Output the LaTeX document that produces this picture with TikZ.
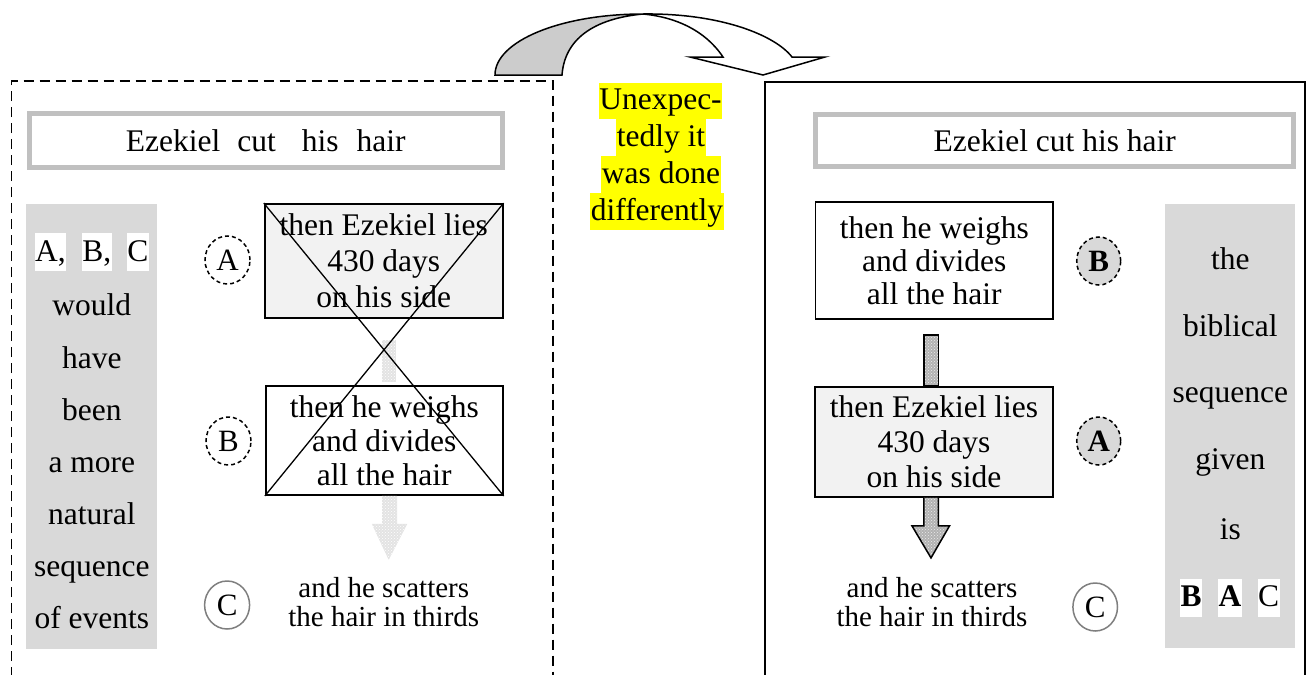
\documentclass[tikz,border=0pt]{standalone}
\usepackage{fontspec}
\setmainfont{Liberation Serif}
\usetikzlibrary{patterns,calc,shapes.geometric}
\definecolor{colgray}{HTML}{D9D9D9}
\definecolor{boxfill}{HTML}{F2F2F2}
\definecolor{titlegray}{HTML}{C0C0C0}
\definecolor{curvegray}{HTML}{CCCCCC}
\definecolor{hl}{HTML}{FFFF00}
\definecolor{ringgray}{HTML}{7F7F7F}
\begin{document}
\begin{tikzpicture}[x=1pt,y=-1pt,
  every node/.style={font=\fontsize{31.5}{35}\selectfont, inner sep=0pt},
  linebox/.style={text height=28pt, text depth=10pt, inner xsep=0.5pt},
  whitebox/.style={linebox, fill=white},
  hlbox/.style={linebox, text height=27pt, text depth=9.7pt, fill=hl},
  titlebox/.style={draw=titlegray, line width=5pt, fill=white},
  colbox/.style={fill=colgray},
  eventbox/.style={draw=black, line width=1.8pt, align=center},
  dashring/.style={ellipse, draw=black, line width=1.5pt, dash pattern=on 4pt off 3pt, minimum width=45pt, minimum height=48pt, font=\fontsize{31}{35}\selectfont},
  solidring/.style={ellipse, draw=ringgray, line width=1.5pt, minimum width=45pt, minimum height=48pt, font=\fontsize{31}{35}\selectfont},
  frameline/.style={line width=1.8pt},
  darkarrow/.style={preaction={fill=gray!60}, pattern=crosshatch dots, pattern color=gray!15, draw=black, line width=1.5pt},
  fadearrow/.style={preaction={fill=gray!22}, pattern=crosshatch dots, pattern color=white},
  scattertext/.style={align=center, font=\fontsize{29}{29.5}\selectfont}
]
\useasboundingbox (0,0) rectangle (1310,675);

% frames
\draw[frameline, dash pattern=on 10pt off 6pt] (11.5,677) -- (11.5,81) -- (553,81) -- (553,677);
\draw[frameline] (765,677) -- (765,82) -- (1305,82) -- (1305,677);

% curved arrow
\filldraw[fill=curvegray, draw=black, line width=1.5pt]
  (495,75) .. controls (495,41) and (561,14) .. (643,14)
  .. controls (600,18) and (565,35) .. (562,75) -- cycle;
\filldraw[fill=white, draw=black, line width=1.5pt]
  (643,14) .. controls (720,13) and (775,35) .. (792,57)
  -- (825,57) -- (763,75) -- (690,57) -- (723,57)
  .. controls (705,30) and (675,17) .. (643,14) -- cycle;

% middle highlighted text
\node[hlbox] (u1) at (660.5,101) {Unexpec-};
\node[hlbox] (u2) at (661,137.5) {tedly it};
\node[hlbox] (u3) at (661,174.5) {was done};
\node[hlbox] (u4) at (657,211.5) {differently};

% ===== left panel =====
\node[titlebox, minimum width=473pt, minimum height=54pt] (lT) at (265.7,140.5)
  {Ezekiel\hspace{17pt}cut\hspace{26pt}his\hspace{18pt}hair};

\node[colbox, minimum width=131pt, minimum height=445pt] (lCol) at (91.8,426.5) {};
\node[whitebox] (lcolA) at (50.5,252) {A,};
\node[whitebox] (lcolB) at (96.8,252) {B,};
\node[whitebox] (lcolC) at (137.9,252) {C};
\node[linebox] (lw1) at (91.8,306) {would};
\node[linebox] (lw2) at (91.8,359) {have};
\node[linebox] (lw3) at (91.8,411) {been};
\node[linebox] (lw4) at (91.8,463) {a more};
\node[linebox] (lw5) at (91.8,515) {natural};
\node[linebox] (lw6) at (91.8,567) {sequence};
\node[linebox] (lw7) at (91.8,619) {of events};

\node[eventbox, fill=boxfill, minimum width=238pt, minimum height=114pt,
      font=\fontsize{31.5}{36}\selectfont] (lA) at (383.7,261)
  {then Ezekiel lies\\430 days\\on his side};
\node[eventbox, fill=white, minimum width=237pt, minimum height=109pt,
      font=\fontsize{31.5}{34}\selectfont] (lB) at (384.3,440.5)
  {then he weighs\\and divides\\all the hair};
\node[scattertext] (lS) at (383.8,602) {and he scatters\\the hair in thirds};

\path[fadearrow] ($(lA.south)+(-1.7,21)$) rectangle ($(lB.north)+(11.7,-3)$);
\path[fadearrow, shift={(lB.south)}]
  (-2.3,0) -- (-2.3,28) -- (-12.5,28) -- (4.4,64) -- (23,28) -- (12.7,28) -- (12.7,0) -- cycle;

\draw[line width=1.3pt] (lA.north west) -- (lB.south east);
\draw[line width=1.3pt] (lA.north east) -- (lB.south west);

\node[dashring] (lcA) at (227.5,260) {A};
\node[dashring] (lcB) at (228.5,441) {B};
\node[solidring] (lcC) at (227.1,605) {C};

% ===== right panel =====
\node[titlebox, minimum width=477.6pt, minimum height=52pt] (rT) at (1054.7,140.5)
  {Ezekiel cut his hair};

\node[colbox, minimum width=130pt, minimum height=444pt] (rCol) at (1230.4,426) {};
\node[linebox] (rw1) at (1230.4,260) {the};
\node[linebox] (rw2) at (1230.4,327) {biblical};
\node[linebox] (rw3) at (1230.4,393) {sequence};
\node[linebox] (rw4) at (1230.4,460) {given};
\node[linebox] (rw5) at (1230.4,530) {is};
\node[whitebox] (rcolB) at (1191.2,597.5) {\textbf{B}};
\node[whitebox] (rcolA) at (1230,597.5) {\textbf{A}};
\node[whitebox] (rcolC) at (1268.5,597.5) {C};

\node[eventbox, fill=white, minimum width=237.6pt, minimum height=117pt,
      font=\fontsize{31.5}{33}\selectfont] (rB) at (934.3,260.5)
  {then he weighs\\and divides\\all the hair};
\node[eventbox, fill=boxfill, minimum width=238pt, minimum height=110pt] (rA) at (934,442)
  {then Ezekiel lies\\430 days\\on his side};
\node[scattertext] (rS) at (932,602) {and he scatters\\the hair in thirds};

\path[darkarrow] ($(rB.south)+(-10.4,15)$) rectangle ($(rA.north)+(4.3,0)$);
\path[darkarrow, shift={(rA.south)}]
  (-10.1,0) -- (-10.1,28) -- (-22,28) -- (-3,60) -- (15.5,28) -- (4.3,28) -- (4.3,0);

\node[dashring, fill=colgray, minimum width=44pt] (rcB) at (1098.7,261) {\textbf{B}};
\node[dashring, fill=colgray, minimum width=44pt] (rcA) at (1098.7,441) {\textbf{A}};
\node[solidring, fill=white, minimum width=44.6pt] (rcC) at (1095.2,607) {C};
\end{tikzpicture}
\end{document}
